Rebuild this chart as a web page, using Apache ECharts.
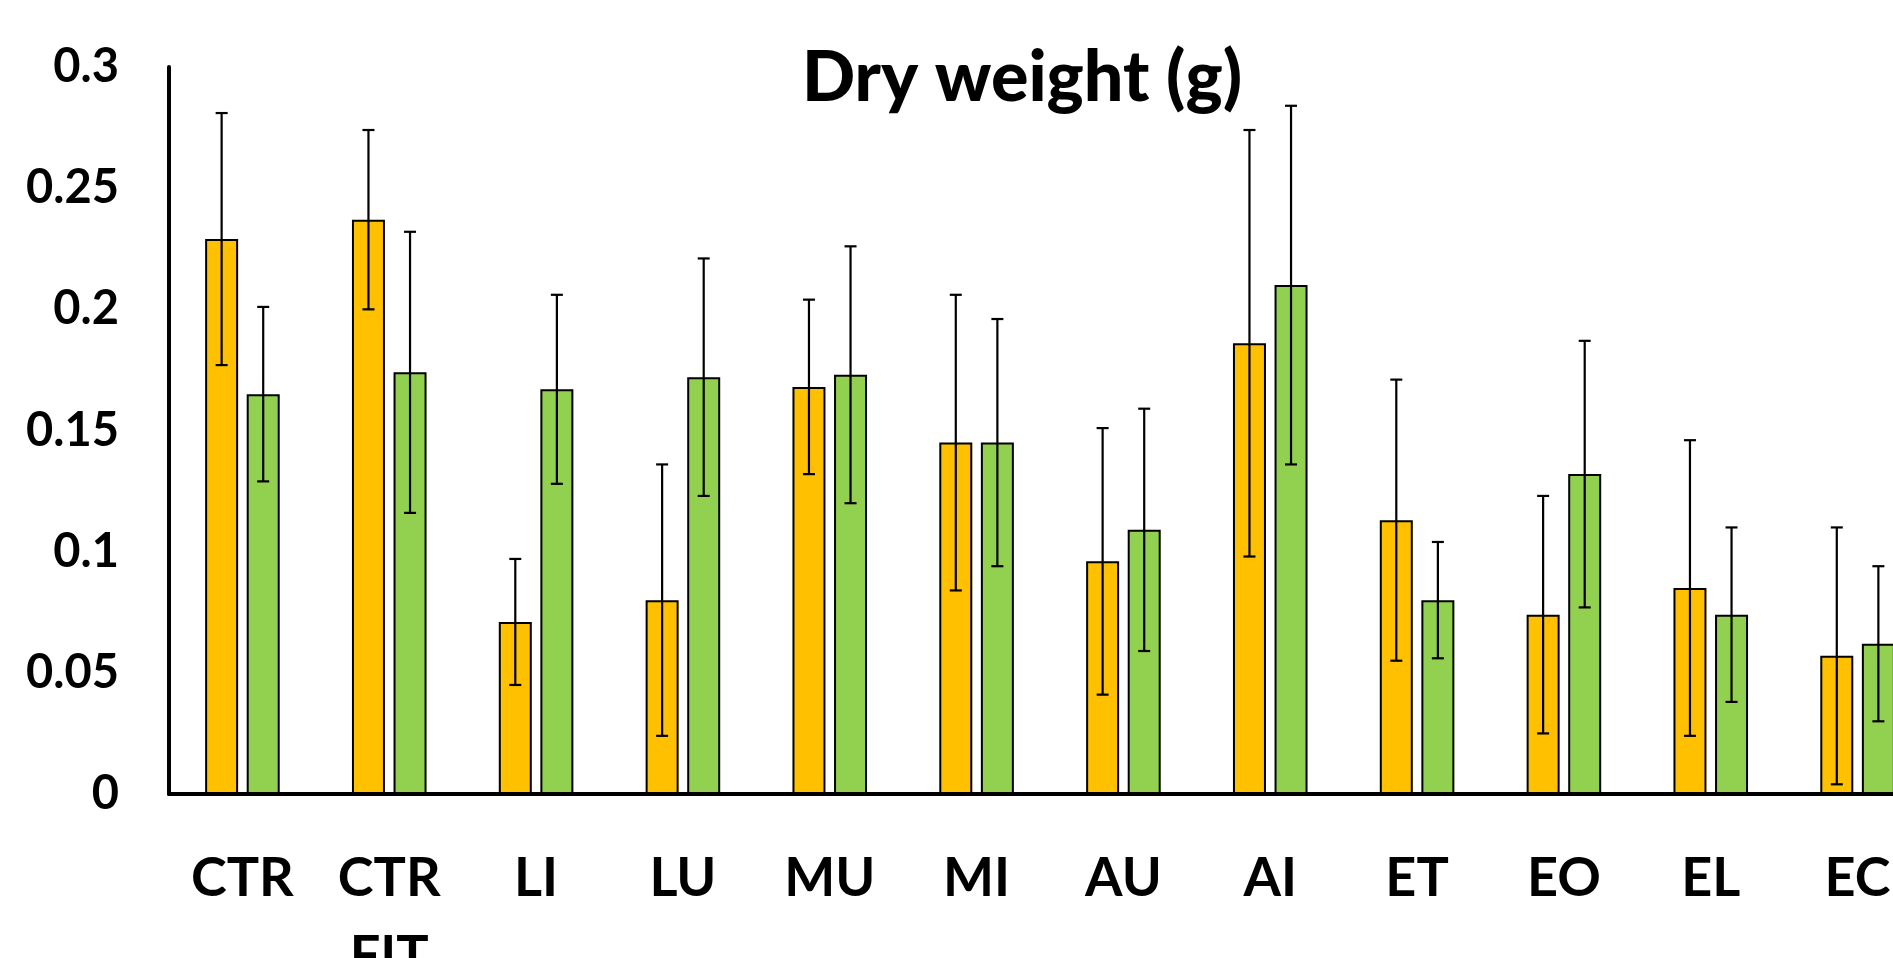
<!DOCTYPE html>
<html>
<head>
<meta charset="utf-8">
<script src="https://cdn.jsdelivr.net/npm/echarts@6/dist/echarts.min.js"></script>
<style>html,body{margin:0;padding:0;background:#fff;}#c{width:1893px;height:958px;}</style>
</head>
<body>
<div id="c"></div>
<script>
const categories = ['CTR', 'CTR\nFIT', 'LI', 'LU', 'MU', 'MI', 'AU', 'AI', 'ET', 'EO', 'EL', 'EC'];
const orangeValues = [0.229, 0.237, 0.071, 0.080, 0.168, 0.145, 0.096, 0.186, 0.113, 0.074, 0.085, 0.057];
const orangeErrors = [0.052, 0.037, 0.026, 0.056, 0.036, 0.061, 0.055, 0.088, 0.058, 0.049, 0.061, 0.053];
const greenValues  = [0.165, 0.174, 0.167, 0.172, 0.173, 0.145, 0.109, 0.210, 0.080, 0.132, 0.074, 0.062];
const greenErrors  = [0.036, 0.058, 0.039, 0.049, 0.053, 0.051, 0.050, 0.074, 0.024, 0.055, 0.036, 0.032];
const titleText = 'Dry weight (g)';

const FONT = 'Lato, "Open Sans", "Noto Sans", sans-serif';
const BAR_W = 33;
const BAR_GAP = 0.26;
const OFFSET = (BAR_W + BAR_W * BAR_GAP) / 2;

function errData(vals, errs) {
  return vals.map((v, i) => [i, v - errs[i], v + errs[i]]);
}
function errRender(offset) {
  return function (params, api) {
    const lo = api.coord([api.value(0), api.value(1)]);
    const hi = api.coord([api.value(0), api.value(2)]);
    const x = lo[0] + offset;
    const cap = 6;
    const style = { stroke: '#000', lineWidth: 2.2 };
    return {
      type: 'group',
      children: [
        { type: 'line', shape: { x1: x, y1: hi[1], x2: x, y2: lo[1] }, style },
        { type: 'line', shape: { x1: x - cap, y1: hi[1], x2: x + cap, y2: hi[1] }, style },
        { type: 'line', shape: { x1: x - cap, y1: lo[1], x2: x + cap, y2: lo[1] }, style }
      ]
    };
  };
}

const chart = echarts.init(document.getElementById('c'), null, { renderer: 'canvas' });
chart.setOption({
  animation: false,
  backgroundColor: '#ffffff',
  title: {
    text: titleText,
    left: 1017,
    top: 38,
    textAlign: 'center',
    textStyle: { fontFamily: FONT, fontWeight: 900, fontSize: 70, color: '#000' }
  },
  grid: { left: 169, top: 67, width: 1762, height: 727, containLabel: false, outerBoundsMode: 'none' },
  xAxis: {
    type: 'category',
    data: categories,
    axisLine: { show: true, lineStyle: { color: '#000', width: 4 } },
    axisTick: { show: false },
    axisLabel: {
      interval: 0,
      margin: 46,
      fontFamily: FONT,
      fontWeight: 'bold',
      fontSize: 54,
      lineHeight: 78,
      color: '#000',
      verticalAlign: 'top'
    },
    splitLine: { show: false }
  },
  yAxis: {
    type: 'value',
    min: 0,
    max: 0.3,
    interval: 0.05,
    axisLine: { show: true, lineStyle: { color: '#000', width: 4 } },
    axisTick: { show: false },
    splitLine: { show: false },
    axisLabel: {
      margin: 50,
      fontFamily: FONT,
      fontWeight: 'bold',
      fontSize: 47,
      color: '#000'
    }
  },
  series: [
    {
      type: 'bar',
      data: orangeValues,
      barWidth: BAR_W,
      barGap: (BAR_GAP * 100) + '%',
      itemStyle: { color: '#FFC000', borderColor: '#000', borderWidth: 2 }
    },
    {
      type: 'bar',
      data: greenValues,
      barWidth: BAR_W,
      itemStyle: { color: '#92D050', borderColor: '#000', borderWidth: 2 }
    },
    {
      type: 'custom',
      data: errData(orangeValues, orangeErrors),
      encode: { x: 0, y: [1, 2] },
      renderItem: errRender(-OFFSET),
      z: 10
    },
    {
      type: 'custom',
      data: errData(greenValues, greenErrors),
      encode: { x: 0, y: [1, 2] },
      renderItem: errRender(OFFSET),
      z: 10
    }
  ]
});
</script>
</body>
</html>
